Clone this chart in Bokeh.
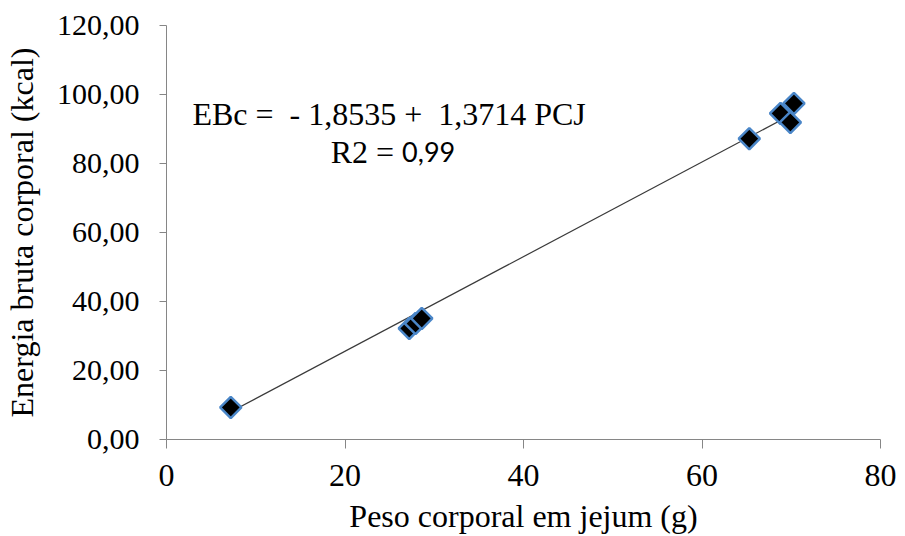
import numpy as np
from bokeh.plotting import figure
from bokeh.models import CustomJSTickFormatter, FixedTicker, ColumnDataSource
from bokeh.core.properties import value
from bokeh.embed import file_html
from bokeh.resources import INLINE

# Data
peso = [7.2, 27.2, 27.9, 28.6, 65.3, 68.8, 69.9, 70.3]
energia = [9.3, 32.2, 33.6, 35.1, 87.2, 94.5, 91.9, 97.4]
intercept = -1.8535
slope = 1.3714
x_ticks = [0, 20, 40, 60, 80]
y_ticks = [0, 20, 40, 60, 80, 100, 120]
eq_text = "EBc =\u00a0\u00a0-\u00a01,8535 +\u00a0\u00a01,3714\u00a0PCJ"
r2_label = "R2 ="
r2_value = "0,99"

SERIF = "Liberation Serif"

p = figure(width=897, height=536, output_backend="svg", toolbar_location=None,
           x_range=(0, 80), y_range=(0, 120),
           min_border_left=166, min_border_right=17, min_border_top=25, min_border_bottom=97)
p.outline_line_color = None
p.xgrid.grid_line_color = None
p.ygrid.grid_line_color = None
p.background_fill_color = "white"

# regression line
xl = np.array([min(peso), max(peso)])
yl = intercept + slope * xl
p.line(xl, yl, line_color="#3a3a3a", line_width=1.2)

src = ColumnDataSource(dict(x=peso, y=energia))
p.scatter("x", "y", source=src, marker="square", angle=np.pi / 4, size=15,
          fill_color="black", line_color="#4A86C8", line_width=2.5)

# annotation
p.text(x=[2.9], y=[94.4], text=[eq_text], text_font=value(SERIF), text_font_size="32px",
       text_baseline="middle", text_align="left", text_color="black")
p.text(x=[25.5], y=[83.3], text=[r2_label], text_font=value(SERIF), text_font_size="32px",
       text_baseline="middle", text_align="right", text_color="black")
p.text(x=[26.4], y=[83.3], text=[r2_value], text_font=value("Lato"), text_font_size="27px",
       text_baseline="middle", text_align="left", text_color="black")

fmt = CustomJSTickFormatter(code="return tick.toFixed(2).replace('.', ',');")

for ax in (p.xaxis[0], p.yaxis[0]):
    ax.axis_line_color = "#868686"
    ax.major_tick_line_color = "#868686"
    ax.minor_tick_line_color = None
    ax.major_tick_in = 0
    ax.major_label_text_font = SERIF
    ax.major_label_text_color = "black"
    ax.axis_label_text_font = SERIF
    ax.axis_label_text_font_size = "32px"
    ax.axis_label_text_font_style = "normal"
    ax.axis_label_text_color = "black"

p.xaxis[0].ticker = FixedTicker(ticks=x_ticks)
p.yaxis[0].ticker = FixedTicker(ticks=y_ticks)
p.yaxis[0].formatter = fmt
p.xaxis[0].major_label_text_font_size = "32px"
p.yaxis[0].major_label_text_font_size = "30px"
p.xaxis[0].major_tick_out = 9
p.yaxis[0].major_tick_out = 7
p.xaxis[0].major_label_standoff = 16
p.yaxis[0].major_label_standoff = 20
p.xaxis.axis_label = "Peso corporal em jejum (g)"
p.yaxis.axis_label = "Energia bruta corporal (kcal)"
p.xaxis[0].axis_label_standoff = 9
p.yaxis[0].axis_label_standoff = 14

open("out.html", "w").write(file_html(p, INLINE))
